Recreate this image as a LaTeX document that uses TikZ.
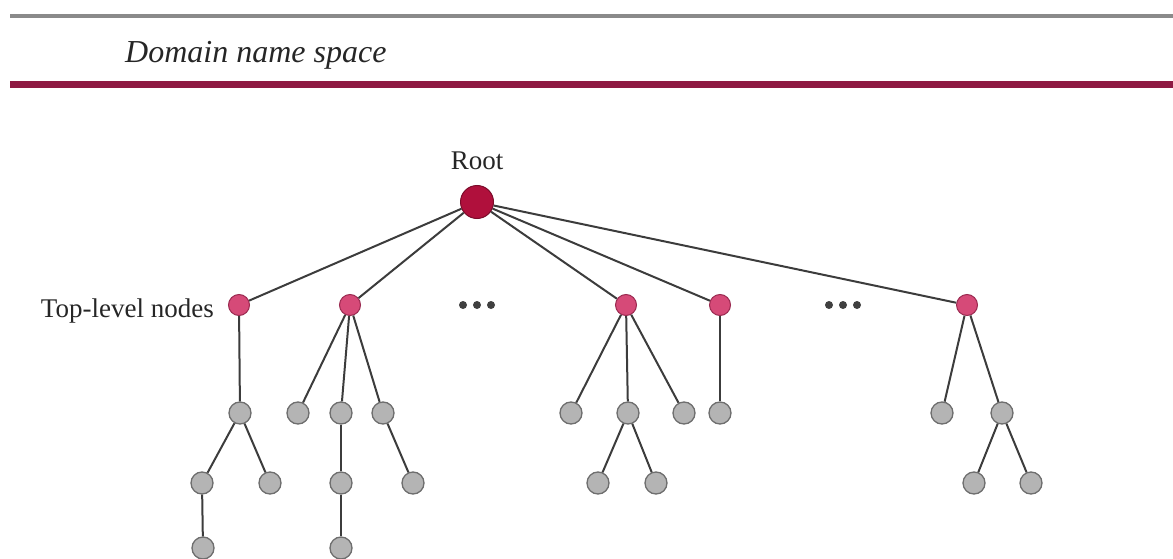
\documentclass[tikz,border=0pt]{standalone}
\usepackage{fontspec}
\setmainfont{Liberation Serif}
\definecolor{rootred}{HTML}{B0103C}
\definecolor{toppink}{HTML}{D64A78}
\definecolor{toprim}{HTML}{9A2A50}
\definecolor{leafgray}{HTML}{B4B4B4}
\definecolor{leafrim}{HTML}{6E6E6E}
\definecolor{edgegray}{HTML}{3C3C3C}
\definecolor{rulered}{HTML}{8E1A42}
\definecolor{rulegray}{HTML}{8A8A8A}
\begin{document}
\begin{tikzpicture}[x=1pt,y=-1pt,
  rootnode/.style={circle,fill=rootred,draw=rootred!70!black,line width=1pt,minimum size=33pt,inner sep=0pt},
  topnode/.style={circle,fill=toppink,draw=toprim,line width=1pt,minimum size=21pt,inner sep=0pt},
  leaf/.style={circle,fill=leafgray,draw=leafrim,line width=1.3pt,minimum size=22pt,inner sep=0pt},
  edge/.style={draw=edgegray,line width=2pt},
  lbl/.style={font=\fontsize{27}{30}\selectfont,inner sep=0pt,text=black!85},
  dot/.style={circle,fill=black!75,minimum size=8pt,inner sep=0pt}]
\useasboundingbox (0,0) rectangle (1173,559);
% header rules
\draw[rulegray,line width=4pt] (10,16) coordinate (g1) -- (1173,16) coordinate (g2);
\draw[rulered,line width=7pt] (10,85) coordinate (r1) -- (1173,85) coordinate (r2);
\node[lbl,anchor=base west,font=\fontsize{32}{36}\selectfont\itshape] (title) at (125,63) {Domain name space};
% nodes
\node[rootnode] (r) at (477,202) {};
\node[lbl,anchor=base] (rl) at (477,169) {Root};
\node[topnode] (t1) at (239,305) {};
\node[topnode] (t2) at (350,305) {};
\node[topnode] (t3) at (626,305) {};
\node[topnode] (t4) at (720,305) {};
\node[topnode] (t5) at (967,305) {};
\node[lbl,anchor=base east] (tl) at (214,317) {Top-level nodes};
\node[dot] (d1) at (463,305) {};
\node[dot] (d2) at (477,305) {};
\node[dot] (d3) at (491,305) {};
\node[dot] (d4) at (829,305) {};
\node[dot] (d5) at (843,305) {};
\node[dot] (d6) at (857,305) {};
% level 2
\node[leaf] (a1) at (240,413) {};
\node[leaf] (b1) at (298,413) {};
\node[leaf] (b2) at (341,413) {};
\node[leaf] (b3) at (383,413) {};
\node[leaf] (c1) at (571,413) {};
\node[leaf] (c2) at (628,413) {};
\node[leaf] (c3) at (684,413) {};
\node[leaf] (dd1) at (720,413) {};
\node[leaf] (e1) at (942,413) {};
\node[leaf] (e2) at (1002,413) {};
% level 3
\node[leaf] (a11) at (202,483) {};
\node[leaf] (a12) at (270,483) {};
\node[leaf] (b21) at (341,483) {};
\node[leaf] (b31) at (413,483) {};
\node[leaf] (c21) at (598,483) {};
\node[leaf] (c22) at (656,483) {};
\node[leaf] (e21) at (974,483) {};
\node[leaf] (e22) at (1031,483) {};
% level 4
\node[leaf] (a111) at (203,548) {};
\node[leaf] (b211) at (341,548) {};
% edges
\foreach \t in {t1,t2,t3,t4,t5} \draw[edge] (r) -- (\t);
\draw[edge] (t1) -- (a1);
\draw[edge] (t2) -- (b1); \draw[edge] (t2) -- (b2); \draw[edge] (t2) -- (b3);
\draw[edge] (t3) -- (c1); \draw[edge] (t3) -- (c2); \draw[edge] (t3) -- (c3);
\draw[edge] (t4) -- (dd1);
\draw[edge] (t5) -- (e1); \draw[edge] (t5) -- (e2);
\draw[edge] (a1) -- (a11); \draw[edge] (a1) -- (a12);
\draw[edge] (b2) -- (b21); \draw[edge] (b3) -- (b31);
\draw[edge] (c2) -- (c21); \draw[edge] (c2) -- (c22);
\draw[edge] (e2) -- (e21); \draw[edge] (e2) -- (e22);
\draw[edge] (a11) -- (a111); \draw[edge] (b21) -- (b211);
\end{tikzpicture}
\end{document}
